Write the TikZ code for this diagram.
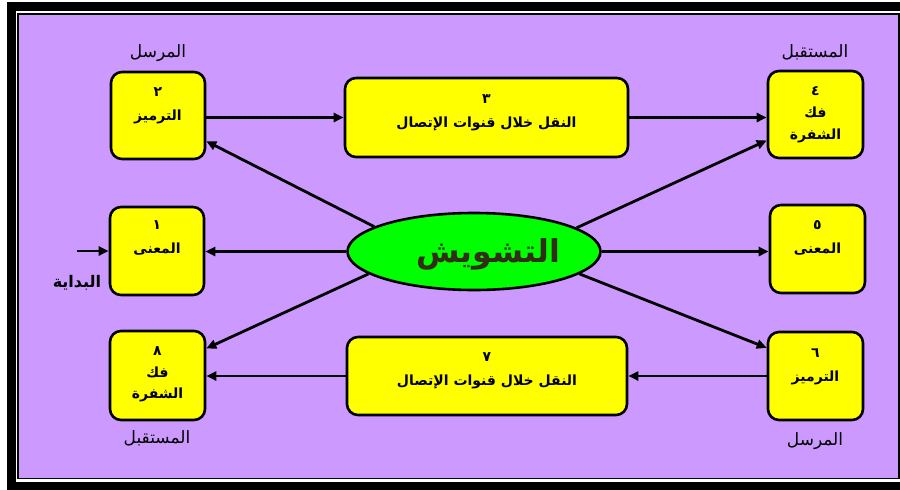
\documentclass[tikz,border=0pt]{standalone}
\usepackage{fontspec}
\usetikzlibrary{arrows.meta,shapes.geometric,calc}
\TeXXeTstate=1
\newfontfamily\arabicfont[Script=Arabic]{DejaVu Sans}
\definecolor{bgpurple}{RGB}{204,153,255}
\definecolor{boxyellow}{RGB}{255,255,0}
\definecolor{ellgreen}{RGB}{0,255,0}
\definecolor{elltext}{RGB}{50,45,20}
\tikzset{
  box/.style={draw=black, line width=2.6pt, fill=boxyellow, rounded corners=11pt, inner sep=0pt},
  boxtext/.style={anchor=north, align=center, inner sep=0pt, font=\arabicfont\bfseries\fontsize{14}{23.5}\selectfont},
  lab/.style={inner sep=0pt, font=\arabicfont\fontsize{17}{19}\selectfont},
  conn/.style={line width=2.8pt, -{Triangle[length=10pt,width=9pt]}}
}
\begin{document}
\begin{tikzpicture}[x=1pt,y=-1pt]
\useasboundingbox (0,0) rectangle (900,490);
\clip (0,0) rectangle (900,490);
% frame
\fill[black] (7,2) rectangle (930,500);
\fill[white] (15.5,11) rectangle (920,481.5);
\draw[black, line width=1.5pt, fill=bgpurple] (18,14) rectangle (899,478.5);

% boxes
\node[box, minimum width=94pt, minimum height=87pt] (b2) at (158,115.5) {};
\node[box, minimum width=283pt, minimum height=79pt] (b3) at (486.5,117.5) {};
\node[box, minimum width=95pt, minimum height=87pt] (b4) at (815.5,114.5) {};
\node[box, minimum width=94pt, minimum height=88pt] (b1) at (157,251) {};
\node[box, minimum width=95pt, minimum height=88pt] (b5) at (817.5,249) {};
\node[box, minimum width=95pt, minimum height=89pt] (b8) at (157.5,375.5) {};
\node[box, minimum width=280pt, minimum height=78pt] (b7) at (487,376) {};
\node[box, minimum width=95pt, minimum height=88pt] (b6) at (815.5,376) {};

\node[ellipse, draw=black, line width=2.6pt, fill=ellgreen, minimum width=253pt, minimum height=77pt, inner sep=0pt] (el) at (474,251.5) {};
\node[inner sep=0pt, text=elltext, font=\arabicfont\bfseries\fontsize{31.5}{34}\selectfont] (elt) at (488,254) {\beginR التشويش\endR};

% box texts
\node[boxtext] (t2) at ($(b2.north)+(0,17)$) {\beginR ٢\endR\\\beginR الترميز\endR};
\node[boxtext] (t3) at ($(b3.north)+(0,18)$) {\beginR ٣\endR\\\beginR النقل خلال قنوات الإتصال\endR};
\node[boxtext, font=\arabicfont\bfseries\fontsize{14}{22}\selectfont] (t4) at ($(b4.north)+(0,17)$) {\beginR ٤\endR\\\beginR فك\endR\\\beginR الشفرة\endR};
\node[boxtext] (t1) at ($(b1.north)+(0,15)$) {\beginR ١\endR\\\beginR المعنى\endR};
\node[boxtext] (t5) at ($(b5.north)+(0,17)$) {\beginR ٥\endR\\\beginR المعنى\endR};
\node[boxtext, font=\arabicfont\bfseries\fontsize{14}{21.5}\selectfont] (t8) at ($(b8.north)+(0,17)$) {\beginR ٨\endR\\\beginR فك\endR\\\beginR الشفرة\endR};
\node[boxtext] (t7) at ($(b7.north)+(0,17)$) {\beginR ٧\endR\\\beginR النقل خلال قنوات الإتصال\endR};
\node[boxtext] (t6) at ($(b6.north)+(0,18)$) {\beginR ٦\endR\\\beginR الترميز\endR};

% outer labels
\node[lab] (l2) at (158,53) {\beginR المرسل\endR};
\node[lab] (l4) at (815,52) {\beginR المستقبل\endR};
\node[lab] (l8) at (157,438) {\beginR المستقبل\endR};
\node[lab] (l6) at (815,441) {\beginR المرسل\endR};
\node[lab, font=\arabicfont\bfseries\fontsize{16}{18}\selectfont] (lstart) at (77,283) {\beginR البداية\endR};

% connectors
\coordinate (start) at (77,251);
\draw[conn] (start) -- (b1.west);
\draw[conn] (b2.east |- b3.west) -- (b3.west);
\draw[conn] (b3.east) -- (b3.east -| b4.west);
\draw[conn] (b6.west) -- (b7.east);
\draw[conn] (b7.west) -- (b7.west -| b8.east);
\draw[conn] (el.west) -- (el.west -| b1.east);
\draw[conn] (el.east) -- (el.east -| b5.west);
\draw[conn] (el.166.8) -- (b2.-28);
\draw[conn] (el.13.2) -- (b4.208);
\draw[conn] (el.192) -- (b8.29);
\draw[conn] (el.348) -- (b6.150.4);
\end{tikzpicture}
\end{document}
